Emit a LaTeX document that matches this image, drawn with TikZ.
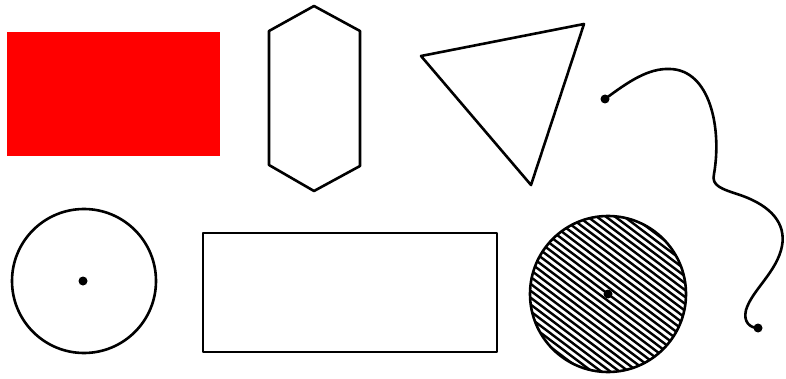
\documentclass[tikz,border=0pt]{standalone}
\begin{document}
\begin{tikzpicture}[x=1pt, y=-1pt, line width=2.6pt, line join=round]
	\def\hx{608}  % hatched disc
	\def\hy{294}
	\def\hr{78}
	\useasboundingbox (0,0) rectangle (786,379);
	\fill[red] (7,32) rectangle (220,156);
	\draw (314,6) -- (360,31) -- (360,166) -- (314,191) -- (269,165) -- (269,31) -- cycle;
	\draw (421,56) -- (584,24) -- (531,185) -- cycle;
	\coordinate (start) at (605,99);
	\coordinate (end) at (758,328);
	\draw (start) .. controls (628,82) and (648,68) .. (670,69)
		.. controls (710,70) and (722,128) .. (714,174)
		.. controls (711,186) and (722,189) .. (740,195)
		.. controls (772,206) and (786,224) .. (782,246)
		.. controls (777,272) and (752,290) .. (746,310)
		.. controls (743,322) and (750,328) .. (end);
	\fill (start) circle (4.5);
	\fill (end) circle (4.5);
	\draw (84,281) circle (72);
	\fill (83,281) circle (4.5);
	\draw (203,233) rectangle (497,352);
	\begin{scope}[shift={(\hx,\hy)}, rotate=-37]
		\clip (0,0) circle (\hr);
		\foreach \d in {-88,-82.5,...,88}
			\draw[line width=2.4pt] (-90,\d) -- (90,\d);
	\end{scope}
	\draw (\hx,\hy) circle (\hr);
	\fill (\hx,\hy) circle (4.5);
\end{tikzpicture}
\end{document}
